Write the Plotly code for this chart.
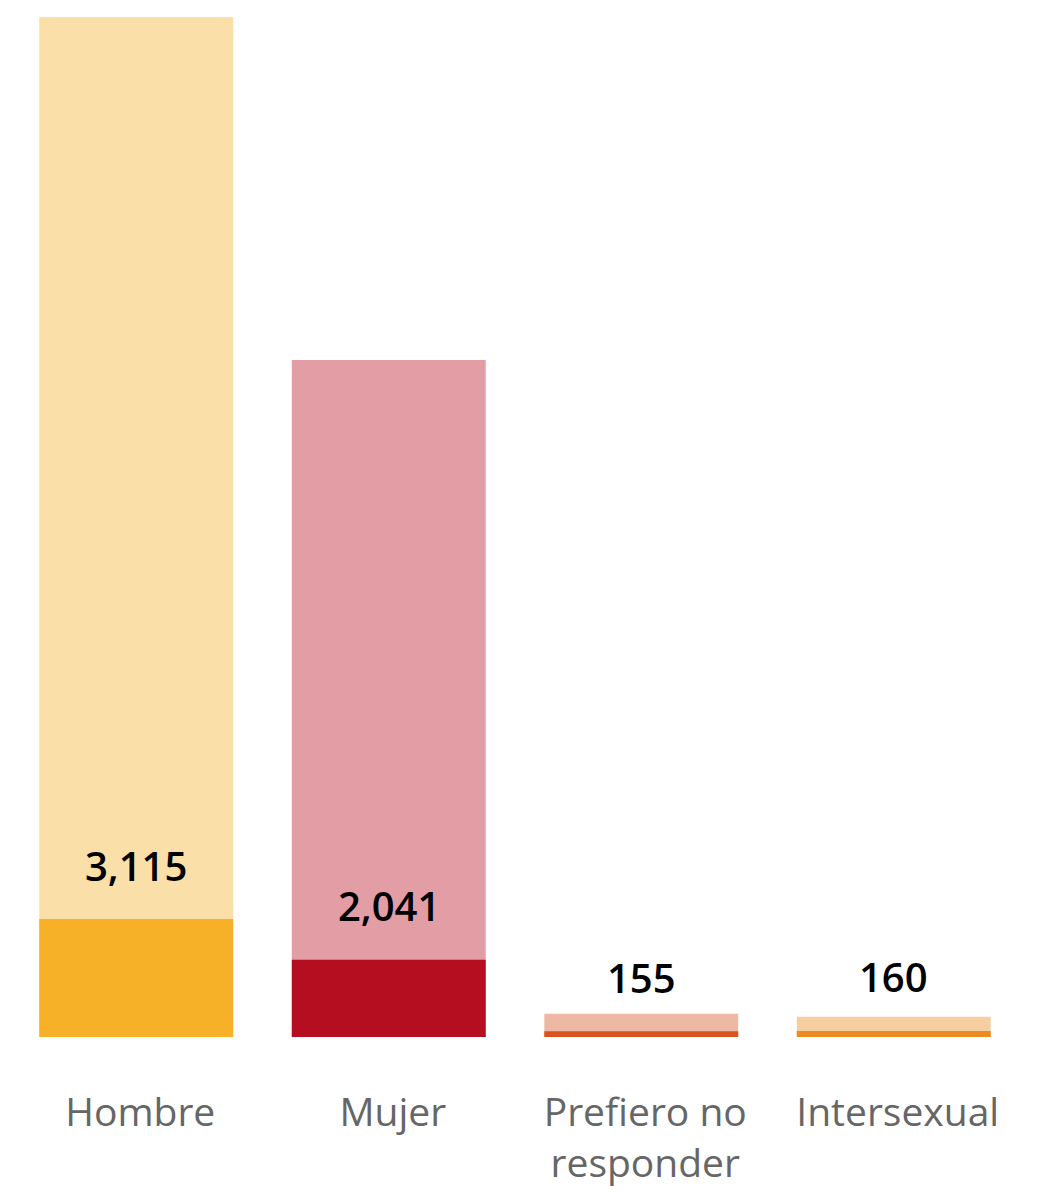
import plotly.graph_objects as go

categories = ["Hombre", "Mujer", "Prefiero no<br>responder", "Intersexual"]
counts = [3115, 2041, 155, 160]
totals = [26935, 17880, 615, 535]
dark_colors = ["#F6B128", "#B50E20", "#D9541E", "#EC8B1F"]
light_colors = ["#FADFA8", "#E29DA5", "#EEB9A4", "#F6CEA1"]

FONT = "Open Sans, Noto Sans, sans-serif"

fig = go.Figure()
fig.add_bar(x=categories, y=totals, marker=dict(color=light_colors, line=dict(width=0)),
            hoverinfo="skip")
fig.add_bar(x=categories, y=counts, marker=dict(color=dark_colors, line=dict(width=0)),
            hoverinfo="skip")

for c, v in zip(categories, counts):
    fig.add_annotation(x=c, y=v, text=f"{v:,}", showarrow=False, yanchor="middle",
                       yshift=54, font=dict(family=FONT, size=40, color="#000000", weight=600))

fig.update_layout(
    width=1057, height=1194,
    barmode="overlay", bargap=0.232,
    showlegend=False,
    plot_bgcolor="white", paper_bgcolor="white",
    margin=dict(l=10, r=37, t=17, b=157),
    xaxis=dict(showgrid=False, showline=False, zeroline=False, automargin=False,
               ticks="outside", ticklen=41, tickcolor="rgba(0,0,0,0)",
               ticklabelshift=4,
               tickfont=dict(family=FONT, size=39, color="#666666")),
    yaxis=dict(visible=False, range=[0, max(totals)], automargin=False),
)

fig.write_html("out.html", config={"displayModeBar": False},
               post_script="document.body.style.margin='0';document.body.style.overflow='hidden';")
